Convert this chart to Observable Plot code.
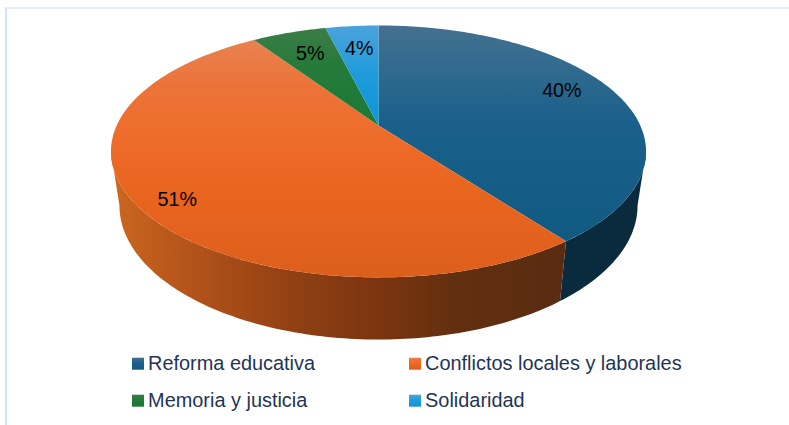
<!DOCTYPE html>
<html>
<head>
<meta charset="utf-8">
<script src="https://cdn.jsdelivr.net/npm/d3@7"></script>
<script src="https://cdn.jsdelivr.net/npm/@observablehq/plot@0.6"></script>
<style>
html,body{margin:0;padding:0;background:#fff}
svg{display:block}
</style>
</head>
<body>
<div id="chart"></div>
<script>
// Data (estimated from the slice boundaries; labels show them rounded)
const categories = ["Reforma educativa", "Conflictos locales y laborales", "Memoria y justicia", "Solidaridad"];
const shares = [39.8, 50.8, 5.49, 3.91];

// Look
const gradients = [
  [[0, "#46708F"], [0.15, "#366C8F"], [0.45, "#1A608A"], [1, "#105A82"]],
  [[0, "#E8824F"], [0.2, "#EC7338"], [0.4, "#EE6C2A"], [0.65, "#E8651F"], [1, "#DD5F1C"]],
  [[0, "#3B7D45"], [0.4, "#257A3A"], [1, "#1B7A35"]],
  [[0, "#4AA3DC"], [0.5, "#1E9BDA"], [1, "#0E95D8"]]
];
const orangeWallStops = [[0, "#CC6820"], [0.1, "#BE5B1C"], [0.27, "#A54B17"], [0.42, "#8E3F13"], [0.6, "#7A3410"], [0.76, "#62300F"], [1, "#5A2B12"]];
const blueWall = "#0A2A3D";

// Tilted-disc projection (unit disc -> chart units)
const cx = 378, tilt = -0.206;
const topPlane = {k: 261.8, a: 94.84, b: 125};
const basePlane = {k: 253.5, a: 91.8, b: 177.4};
function project(plane, deg, r = 1) {
  const t = deg * Math.PI / 180;
  const X = r * Math.sin(t), Y = -r * Math.cos(t), w = 1 + tilt * Y;
  return [cx + plane.k * X / w, (plane.a * Y + plane.b) / w];
}

// Slice extents from the shares
let cum = 0;
const slices = shares.map((v, i) => {
  const start = cum; cum += v;
  return {i, name: categories[i], v, a0: start * 3.6, a1: cum * 3.6, fill: `url(#g${i})`};
});

function arc(plane, from, to) {
  const n = Math.max(2, Math.ceil(Math.abs(to - from)));
  return d3.range(n + 1).map(j => project(plane, from + (to - from) * j / n));
}

// Top face outlines
const faces = slices.flatMap(s =>
  [project(topPlane, 0, 0), ...arc(topPlane, s.a0, s.a1)].map(p => ({s: s.i, fill: s.fill, p}))
);

// Side walls, from silhouette to silhouette along the front of the disc
const rim = Math.acos(tilt) * 180 / Math.PI;
const split = slices[0].a1;
const wallParts = [
  {id: 0, fill: blueWall, from: rim, to: split},
  {id: 1, fill: "url(#wallOrange)", from: split, to: 360 - rim}
];
const wall = wallParts.flatMap(w =>
  [...arc(topPlane, w.from, w.to), ...arc(basePlane, w.to, w.from)].map(p => ({id: w.id, fill: w.fill, p}))
);

// Data labels, placed on the disc
const labelRadius = [0.806, 0.873, 0.743, 0.74];
const labelTurn = [-4.1, -3.3, 0.4, 0.5];
const labels = slices.map(s => ({
  text: Math.round(s.v) + "%",
  p: project(topPlane, (s.a0 + s.a1) / 2 + labelTurn[s.i], labelRadius[s.i])
}));

// Legend layout
const legendX = [132, 409, 132, 409];
const legendY = [363.7, 363.7, 400.7, 400.7];
const swatch = 12;
const legend = slices.map(s => ({name: s.name, fill: s.fill, x: legendX[s.i], y: legendY[s.i]}));

// Gradient definitions
function defs() {
  const ns = "http://www.w3.org/2000/svg";
  const d = document.createElementNS(ns, "defs");
  const add = (id, stops, horizontal) => {
    const g = document.createElementNS(ns, "linearGradient");
    g.setAttribute("id", id);
    g.setAttribute("x1", 0); g.setAttribute("y1", 0);
    g.setAttribute("x2", horizontal ? 1 : 0); g.setAttribute("y2", horizontal ? 0 : 1);
    for (const [o, c] of stops) {
      const st = document.createElementNS(ns, "stop");
      st.setAttribute("offset", o);
      st.setAttribute("stop-color", c);
      g.appendChild(st);
    }
    d.appendChild(g);
  };
  gradients.forEach((stops, i) => add(`g${i}`, stops, false));
  add("wallOrange", orangeWallStops, true);
  return d;
}

const font = "'Liberation Sans', Arial, sans-serif";
const frameColor = "#C9DEF4";

const chart = Plot.plot({
  width: 789, height: 425,
  marginTop: 0, marginRight: 0, marginBottom: 0, marginLeft: 0,
  x: {domain: [0, 789], range: [0, 789], axis: null},
  y: {domain: [0, 425], range: [0, 425], axis: null},
  color: {type: "identity"},
  style: {background: "#fff", fontFamily: font},
  marks: [
    defs,
    Plot.ruleY([7.5], {x1: 5.5, x2: 789, stroke: frameColor, strokeWidth: 1.2}),
    Plot.ruleX([5.5], {y1: 7.5, y2: 425, stroke: frameColor, strokeWidth: 1.6}),
    Plot.line(wall, {x: d => d.p[0], y: d => d.p[1], z: "id", fill: "fill", curve: "linear-closed"}),
    Plot.line(faces, {x: d => d.p[0], y: d => d.p[1], z: "s", fill: "fill", curve: "linear-closed"}),
    Plot.text(labels, {x: d => d.p[0], y: d => d.p[1], text: "text", fill: "#000", fontSize: 19.7, lineAnchor: "middle"}),
    Plot.rect(legend, {x1: "x", x2: d => d.x + swatch, y1: d => d.y - 6, y2: d => d.y + 6, fill: "fill"}),
    Plot.text(legend, {x: d => d.x + 15.6, y: d => d.y - 0.7, text: "name", textAnchor: "start", lineAnchor: "middle", fill: "#1F3556", fontSize: 19.9})
  ]
});
document.getElementById("chart").appendChild(chart);
</script>
</body>
</html>
